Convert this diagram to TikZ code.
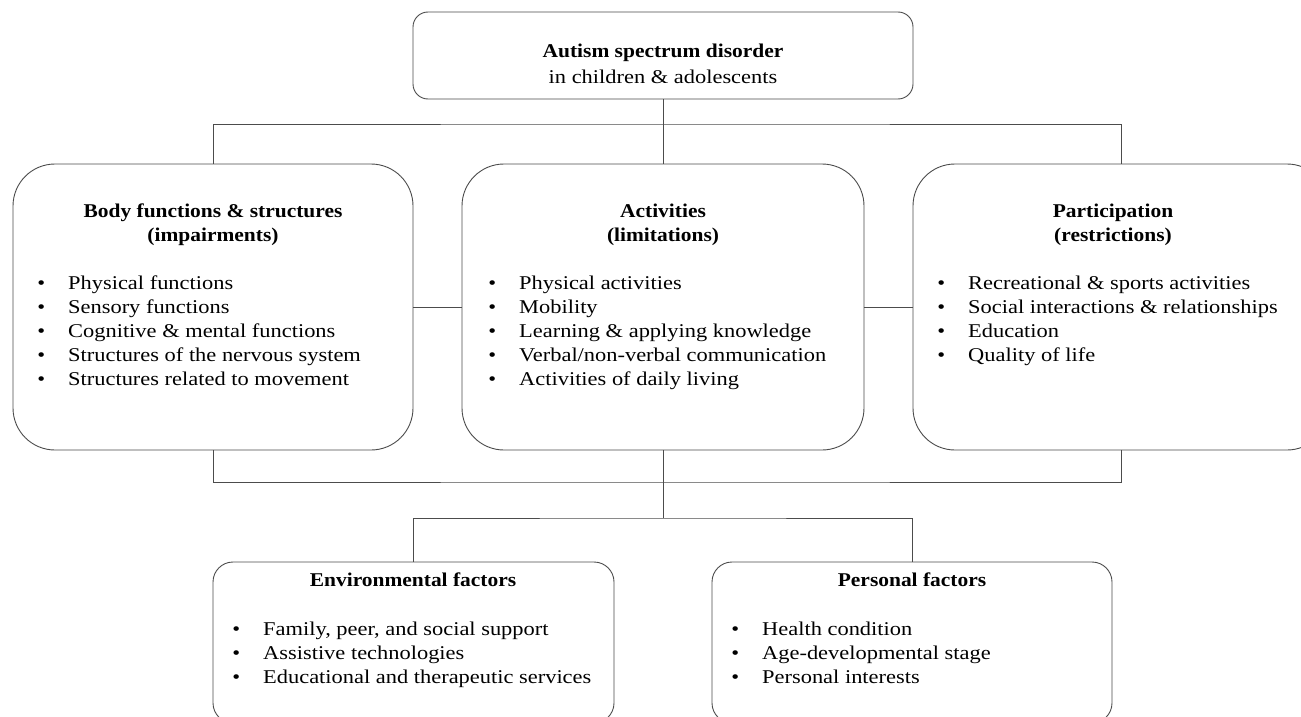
\documentclass[tikz,border=0pt]{standalone}
\usepackage{fontspec}
\setmainfont{Liberation Serif}[FakeStretch=1.15, BoldFeatures={FakeStretch=1.1}]
\begin{document}
\begin{tikzpicture}[x=1pt,y=-1pt,
  every node/.style={font=\fontsize{19.5}{22}\selectfont, inner sep=0pt},
  box/.style={draw=black!70, line width=0.9pt, fill=white, minimum width=#1},
  big/.style={box=#1, minimum height=286pt, rounded corners=42pt},
  small/.style={box=#1, minimum height=161pt, rounded corners=20pt},
  link/.style={draw=black!70, line width=0.9pt},
  ttl/.style={anchor=base, font=\fontsize{19.5}{22}\selectfont\bfseries},
  item/.style={anchor=base west}
]
\useasboundingbox (0,0) rectangle (1301,717);
\clip (0,0) rectangle (1301,717);

% boxes
\node[box=500pt, minimum height=87pt, rounded corners=15pt] (top) at (663,55.5) {};
\node[big=400pt] (body) at (213,307) {};
\node[big=402pt] (act) at (663,307) {};
\node[big=416pt] (part) at (1121,307) {};
\node[small=401pt] (env) at (413.5,642.5) {};
\node[small=400pt] (pers) at (912,642.5) {};

% connectors
\coordinate (j1) at (663,124);
\coordinate (j2) at (663,482);
\coordinate (j3) at (663,518);
\draw[link] (top.south) -- (act.north);
\draw[link] (body.north) |- (j1) -| (part.north);
\draw[link] (body.east) -- (act.west);
\draw[link] (act.east) -- (part.west);
\draw[link] (body.south) |- (j2) -| (part.south);
\draw[link] (act.south) -- (j3);
\draw[link] (env.north) |- (j3) -| (pers.north);

% top box text
\node[ttl] (t1) at (663,58) {Autism spectrum disorder};
\node[anchor=base] (t2) at (663,83) {in children \& adolescents};

% titles
\node[ttl] (bt1) at (213,217) {Body functions \& structures};
\node[ttl] (bt2) at (213,241) {(impairments)};
\node[ttl] (at1) at (663,217) {Activities};
\node[ttl] (at2) at (663,241) {(limitations)};
\node[ttl] (pt1) at (1113,217) {Participation};
\node[ttl] (pt2) at (1113,241) {(restrictions)};
\node[ttl] (et1) at (413,586) {Environmental factors};
\node[ttl] (ft1) at (912,586) {Personal factors};

% bullet lists
\newcommand{\bul}{\llap{\textbullet\hspace{23pt}}}
\foreach \t [count=\i] in {Physical functions, Sensory functions, Cognitive \& mental functions, Structures of the nervous system, Structures related to movement}
  \node[item] (bl\i) at (68,265+24*\i) {\bul\t};
\foreach \t [count=\i] in {Physical activities, Mobility, Learning \& applying knowledge, Verbal/non-verbal communication, Activities of daily living}
  \node[item] (al\i) at (519,265+24*\i) {\bul\t};
\foreach \t [count=\i] in {Recreational \& sports activities, Social interactions \& relationships, Education, Quality of life}
  \node[item] (pl\i) at (968,265+24*\i) {\bul\t};
\foreach \t [count=\i] in {{Family, peer, and social support}, Assistive technologies, Educational and therapeutic services}
  \node[item] (el\i) at (263,611+24*\i) {\bul\t};
\foreach \t [count=\i] in {Health condition, Age-developmental stage, Personal interests}
  \node[item] (fl\i) at (762,611+24*\i) {\bul\t};
\end{tikzpicture}
\end{document}
